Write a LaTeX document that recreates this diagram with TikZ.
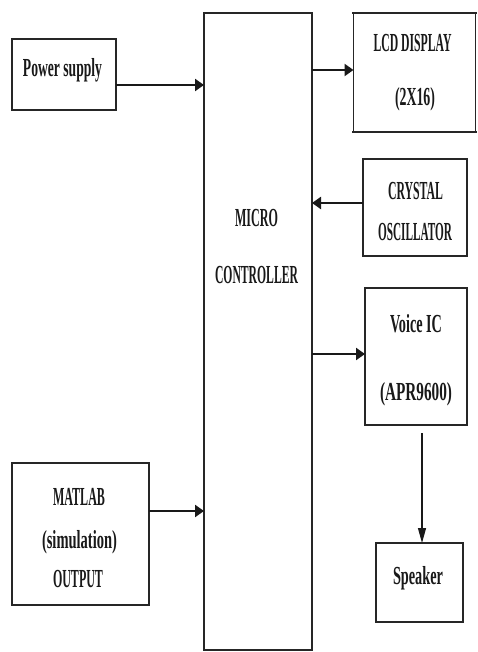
\documentclass[tikz,border=0pt]{standalone}
\usepackage{fontspec}
\setmainfont{Liberation Serif}
\usetikzlibrary{arrows.meta}
\newcommand{\lbl}[2]{\resizebox{#1pt}{\height}{\fontsize{26}{26}\selectfont\bfseries #2}}
\begin{document}
\begin{tikzpicture}[x=1pt,y=-1pt,
  box/.style={draw=black!85, line width=1.2pt, inner sep=0pt, outer sep=0pt},
  txt/.style={anchor=base, inner sep=0pt, text=black!90},
  hedge/.style={draw=black!85, line width=2.4pt, line cap=rect},
  arr/.style={draw=black!90, line width=2.8pt, -{Triangle[length=9pt,width=12pt]}},
  varr/.style={draw=black!90, line width=1.2pt, -{Triangle[length=15pt,width=8pt]}}]
\useasboundingbox (0,0) rectangle (477,652);
\fill[white] (0,0) rectangle (477,652);
% boxes
\node[box, minimum width=104pt, minimum height=71pt]  (power)   at (64,74.5) {};
\node[box, minimum width=108pt, minimum height=637pt] (micro)   at (258,331.5) {};
\node[box, minimum width=122pt, minimum height=119pt] (lcd)     at (414.5,72.5) {};
\node[box, minimum width=104pt, minimum height=97pt]  (crystal) at (415,207.5) {};
\node[box, minimum width=102pt, minimum height=137pt] (voice)   at (416,356.5) {};
\node[box, minimum width=87pt,  minimum height=79pt]  (speaker) at (419.5,582.5) {};
\node[box, minimum width=137pt, minimum height=142pt] (matlab)  at (80.5,534) {};
\foreach \n in {power,micro,lcd,crystal,voice,speaker,matlab}
  \draw[hedge] (\n.north west) -- (\n.north east) (\n.south west) -- (\n.south east);
% labels
\node[txt] (tpow) at (62.5,77) {\lbl{79}{Power supply}};
\node[txt] (tlcd1) at (412.5,52) {\lbl{78}{LCD DISPLAY}};
\node[txt] (tlcd2) at (415,106) {\lbl{40}{(2X16)}};
\node[txt] (tmc1) at (256.5,226) {\lbl{43}{MICRO}};
\node[txt] (tmc2) at (256.5,283) {\lbl{83}{CONTROLLER}};
\node[txt] (tcr1) at (415.5,200) {\lbl{55}{CRYSTAL}};
\node[txt] (tcr2) at (415,240) {\lbl{74}{OSCILLATOR}};
\node[txt] (tvo1) at (416,332) {\lbl{52}{Voice IC}};
\node[txt] (tvo2) at (416,400) {\lbl{72}{(APR9600)}};
\node[txt] (tspk) at (418,584) {\lbl{50}{Speaker}};
\node[txt] (tml1) at (79,505) {\lbl{52}{MATLAB}};
\node[txt] (tml2) at (79.5,548) {\lbl{75}{(simulation)}};
\node[txt] (tml3) at (78,587) {\lbl{50}{OUTPUT}};
% connectors
\coordinate (ya) at (0,85);
\coordinate (yb) at (0,70);
\coordinate (yc) at (0,203);
\coordinate (yd) at (0,354);
\coordinate (ye) at (0,511);
\coordinate (xs) at (422,0);
\draw[arr] (power.east |- ya) -- (micro.west |- ya);
\draw[arr] (micro.east |- yb) -- (lcd.west |- yb);
\draw[arr] (crystal.west |- yc) -- (micro.east |- yc);
\draw[arr] (micro.east |- yd) -- (voice.west |- yd);
\draw[arr] (matlab.east |- ye) -- (micro.west |- ye);
\draw[varr] ([yshift=-8pt]voice.south -| xs) -- (speaker.north -| xs);
\end{tikzpicture}
\end{document}
